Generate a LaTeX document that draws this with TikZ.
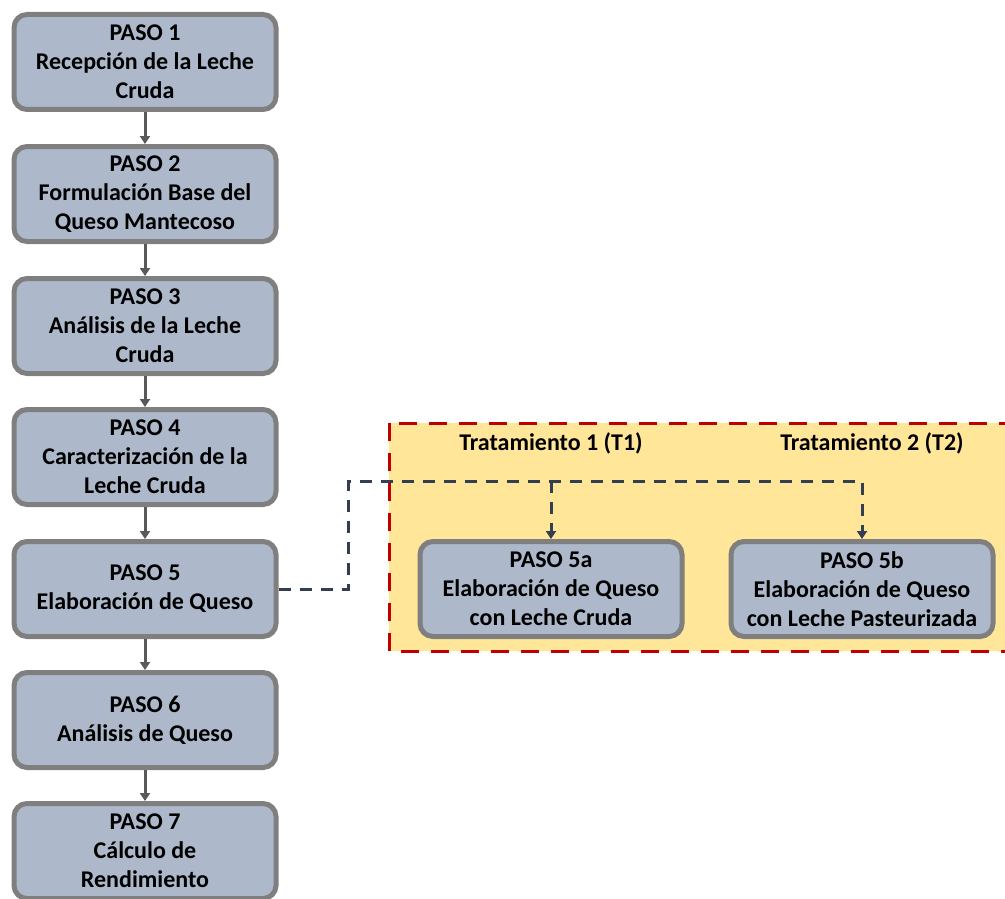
\documentclass[tikz,border=0pt]{standalone}
\usepackage{fontspec}
\setmainfont{Carlito}
\usetikzlibrary{arrows.meta}
\definecolor{boxfill}{HTML}{ADB9CA}
\definecolor{boxline}{HTML}{7F7F7F}
\definecolor{flowgray}{HTML}{595959}
\definecolor{zonefill}{HTML}{FFE699}
\definecolor{zoneline}{HTML}{C00000}
\definecolor{linkdark}{HTML}{333F50}
\tikzset{
  stepbox/.style={draw=boxline, fill=boxfill, line width=5pt, rounded corners=13pt,
    minimum width=262pt, minimum height=95pt, align=center, inner sep=0pt,
    font=\fontsize{24}{29}\selectfont\bfseries},
  flow/.style={draw=flowgray, line width=3pt, -{Triangle[width=10pt,length=8pt]}},
  link/.style={draw=linkdark, line width=3pt, dash pattern=on 12pt off 9pt},
  linkarrow/.style={link, -{Triangle[width=10pt,length=8pt]}},
  zone/.style={fill=zonefill, draw=zoneline, line width=3pt, dash pattern=on 18pt off 12pt},
  zonelabel/.style={font=\fontsize{24}{28}\selectfont\bfseries, inner sep=0pt}
}
\begin{document}
\begin{tikzpicture}[x=1pt, y=-1pt]
  \useasboundingbox (0,0) rectangle (1005,899);
  \clip (0,0) rectangle (1005,899);
  % treatment zone
  \path[zone] (389,423) rectangle (1030,651);
  \node[zonelabel] (t1) at (551,443) {Tratamiento 1 (T1)};
  \node[zonelabel] (t2) at (872,443) {Tratamiento 2 (T2)};
  % main sequence
  \node[stepbox] (p1) at (145,62)  {PASO 1\\Recepción de la Leche\\Cruda};
  \node[stepbox] (p2) at (145,194) {PASO 2\\Formulación Base del\\Queso Mantecoso};
  \node[stepbox] (p3) at (145,326) {PASO 3\\Análisis de la Leche\\Cruda};
  \node[stepbox] (p4) at (145,457) {PASO 4\\Caracterización de la\\Leche Cruda};
  \node[stepbox] (p5) at (145,589) {PASO 5\\Elaboración de Queso};
  \node[stepbox] (p6) at (145,720) {PASO 6\\Análisis de Queso};
  \node[stepbox] (p7) at (145,851) {PASO 7\\Cálculo de\\Rendimiento};
  % sub-steps
  \node[stepbox] (p5a) at (551,589) {PASO 5a\\Elaboración de Queso\\con Leche Cruda};
  \node[stepbox] (p5b) at (862,589) {PASO 5b\\Elaboración de Queso\\con Leche Pasteurizada};
  % sequence arrows
  \foreach \a/\b in {p1/p2, p2/p3, p3/p4, p4/p5, p5/p6, p6/p7}
    \draw[flow] (\a) -- (\b);
  % branch to the treatments
  \coordinate (j) at (348,481);
  \coordinate (ja) at (551,481);
  \coordinate (jb) at (862,481);
  \draw[linkarrow] (p5.east) -| (j) -- (jb) -- (p5b.north);
  \draw[linkarrow] (ja) -- (p5a.north);
\end{tikzpicture}
\end{document}
